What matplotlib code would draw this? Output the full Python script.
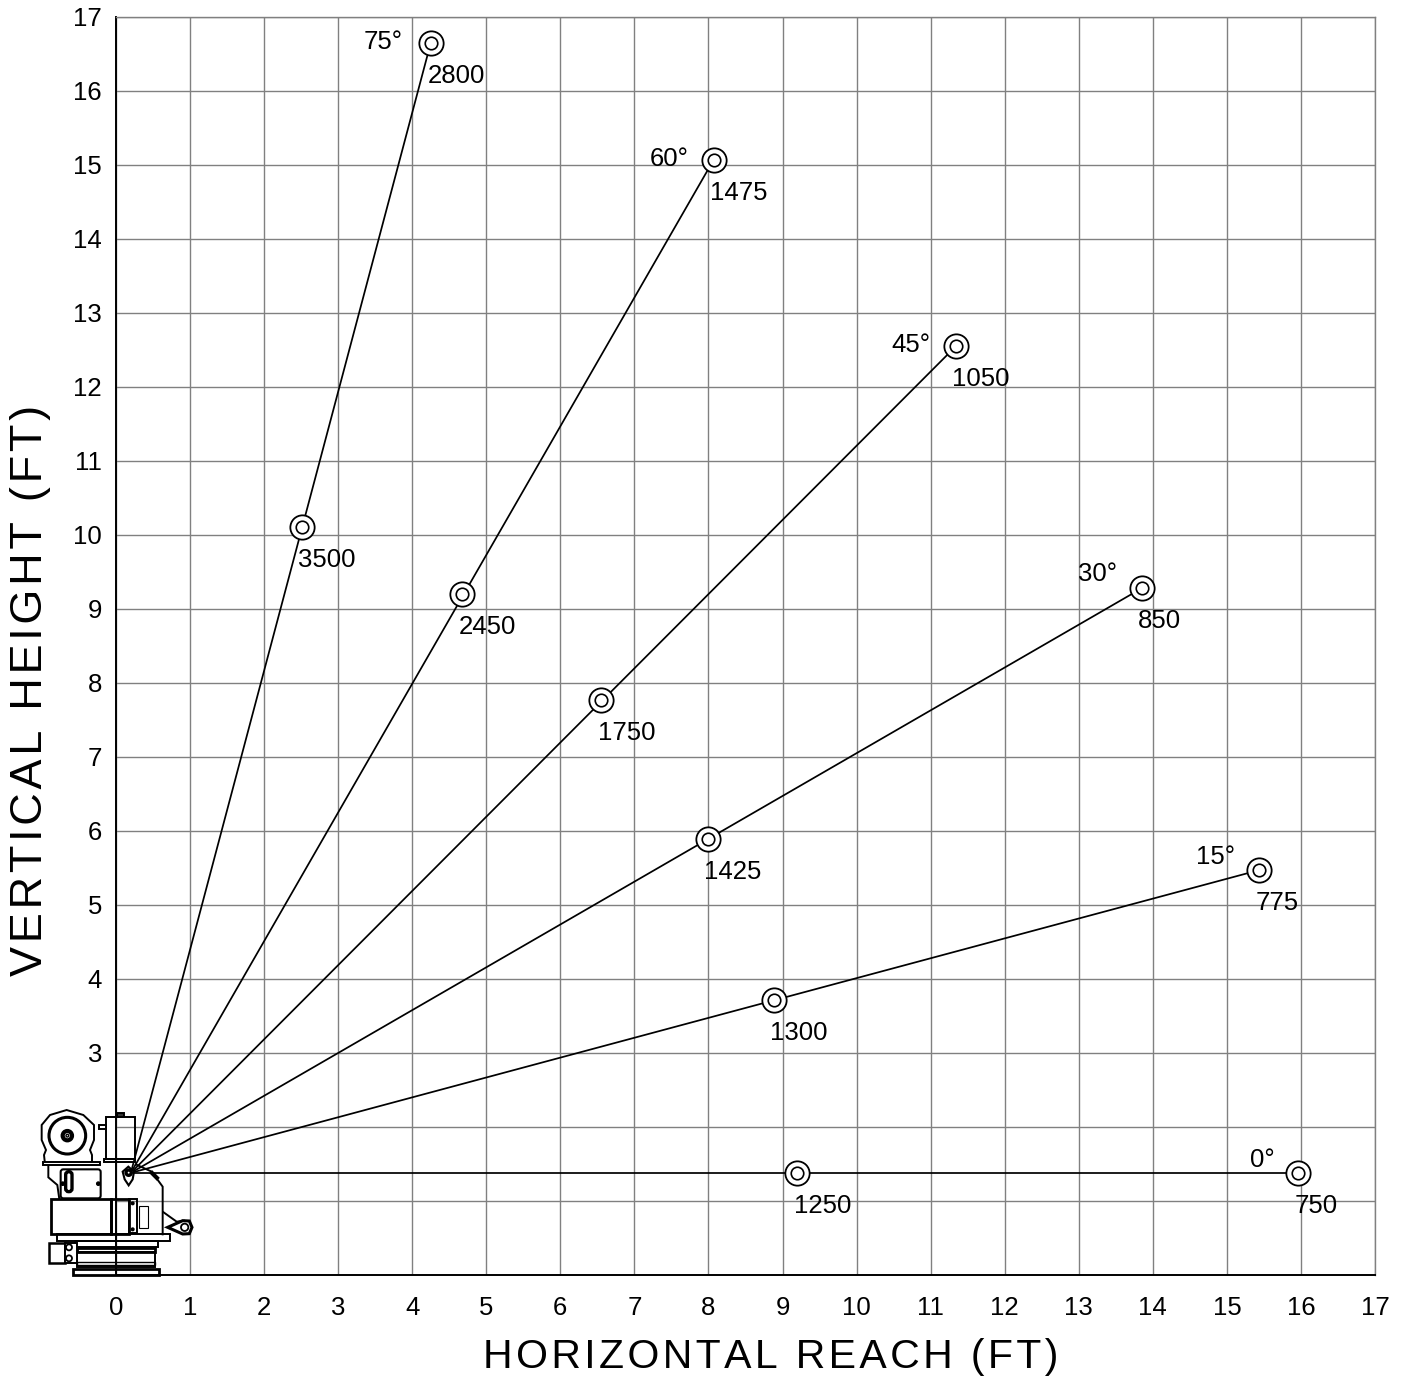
import matplotlib
matplotlib.use('Agg')
import matplotlib.pyplot as plt
from matplotlib.patches import Circle, Polygon, Rectangle, FancyBboxPatch
from matplotlib.transforms import Affine2D

plt.rcParams['font.family'] = ['Liberation Sans', 'DejaVu Sans']

angles = ['0°', '15°', '30°', '45°', '60°', '75°']
origin_x = 0.2
origin_y = 1.38
near_x = [9.20, 8.88, 7.99, 6.55, 4.67, 2.51]
near_y = [1.38, 3.72, 5.89, 7.77, 9.20, 10.11]
near_load = [1250, 1300, 1425, 1750, 2450, 3500]
far_x = [15.96, 15.43, 13.85, 11.34, 8.07, 4.25]
far_y = [1.38, 5.47, 9.28, 12.55, 15.07, 16.65]
far_load = [750, 775, 850, 1050, 1475, 2800]
x_ticks = list(range(0, 18))
y_ticks = list(range(0, 18))
y_labels = ['', '', ''] + [str(v) for v in range(3, 18)]
x_title = 'HORIZONTAL REACH (FT)'
y_title = 'VERTICAL HEIGHT (FT)'

W, H = 1404, 1379
fig = plt.figure(figsize=(W / 100, H / 100), dpi=100)
ax = fig.add_axes([116 / W, 1 - 1275 / H, (1375 - 116) / W, (1275 - 17) / H])
ax.set_xlim(0, 17)
ax.set_ylim(0, 17)
ax.set_xticks(x_ticks)
ax.set_yticks(y_ticks)
ax.set_yticklabels(y_labels)
ax.tick_params(length=0, labelsize=18.5, pad=10)
ax.tick_params(axis='x', pad=15)
ax.grid(True, color='#808080', lw=1.0)
ax.set_axisbelow(True)
for side in ['top', 'right']:
    ax.spines[side].set_color('#808080')
    ax.spines[side].set_linewidth(1.0)
for side in ['left', 'bottom']:
    ax.spines[side].set_color('black')
    ax.spines[side].set_linewidth(1.4)

# the titles are letter spaced in the original, hair spaces get close to that
fig.text(771 / W, 1 - 1357 / H, '\u200a'.join(x_title), fontsize=29.5, ha='center', va='center')
fig.text(31 / W, 1 - 690 / H, '\u200a'.join(y_title), fontsize=32.4, rotation=90, ha='center', va='center')

# angle label offsets differ a bit for the lower lines
angle_dy = [13, 13, 14, 1, 1, 1]
angle_dx = [-23, -24, -25, -25, -25, -28]

for i in range(len(angles)):
    ax.plot([origin_x, far_x[i]], [origin_y, far_y[i]], color='black', lw=1.25, zorder=3)
    ax.plot([near_x[i], far_x[i]], [near_y[i], far_y[i]], ls='none', marker='o', ms=17.5,
            mfc='white', mec='black', mew=1.3, zorder=4)
    ax.plot([near_x[i], far_x[i]], [near_y[i], far_y[i]], ls='none', marker='o', ms=9,
            mfc='white', mec='black', mew=1.2, zorder=5)
    ax.annotate(str(near_load[i]), (near_x[i], near_y[i]), xytext=(-2.5, -33 * 0.72),
                textcoords='offset points', fontsize=18.5, ha='left', va='center', zorder=6)
    ax.annotate(str(far_load[i]), (far_x[i], far_y[i]), xytext=(-2.5, -33 * 0.72),
                textcoords='offset points', fontsize=18.5, ha='left', va='center', zorder=6)
    ax.annotate(angles[i], (far_x[i], far_y[i]), xytext=(angle_dx[i] * 0.72, angle_dy[i] * 0.72),
                textcoords='offset points', fontsize=18.5, ha='right', va='center', zorder=6)

# crane drawing, coordinates are pixels of a 3x crop starting at (20, 1090)
crane = Affine2D().scale(1 / 3).translate(20, 1090).scale(1, -1).translate(0, H)


def outline(pts, closed=True, lw=1.4, fc='white', z=7):
    fig.add_artist(Polygon(pts, closed=closed, fc=fc, ec='black', lw=lw, transform=crane, zorder=z))


def box(x0, y0, x1, y1, lw=1.4, fc='white', z=7):
    fig.add_artist(Rectangle((x0, y0), x1 - x0, y1 - y0, fc=fc, ec='black', lw=lw, transform=crane, zorder=z))


def ring(x, y, r, lw=1.3, fc='white', z=8):
    fig.add_artist(Circle((x, y), r, fc=fc, ec='black', lw=lw, transform=crane, zorder=z))


# main housing is left unfilled so the axis and grid show through it
outline([(85, 225), (85, 262), (112, 285), (118, 328)], closed=False, fc='none')
outline([(345, 222), (395, 245), (428, 290), (428, 436)], closed=False, fc='none')
outline([(392, 245), (415, 268)], closed=False, fc='none', lw=3)
outline([(428, 365), (470, 395), (495, 392)], closed=False, fc='none')

# winch
outline([(75, 222), (72, 195), (78, 180), (65, 150), (65, 105), (90, 75), (140, 60), (190, 75),
         (222, 105), (222, 150), (210, 180), (216, 195), (216, 222)])
ring(142, 137, 55, lw=2.2)
ring(142, 137, 14, lw=3)
ring(142, 137, 4, lw=1.0)
box(70, 216, 240, 225)

# cylinder
box(258, 82, 345, 206, fc='none')
box(290, 70, 312, 82, fc='#333333')
box(252, 206, 345, 216, fc='none')
box(238, 106, 258, 118)

# panel
fig.add_artist(FancyBboxPatch((122, 238), 120, 87, boxstyle='round,pad=0,rounding_size=8', fc='none',
                              ec='black', lw=1.5, transform=crane, zorder=7))
fig.add_artist(FancyBboxPatch((137, 245), 19, 60, boxstyle='round,pad=0,rounding_size=9', fc='white',
                              ec='black', lw=2.4, transform=crane, zorder=7))
ring(128, 281, 5, lw=1, fc='black')
ring(235, 281, 5, lw=1, fc='black')

# blocks
box(93, 328, 272, 432, lw=2)
box(272, 328, 328, 432, lw=2, fc='none')
box(328, 328, 350, 430, fc='none')
box(356, 347, 384, 414, lw=0.8, fc='none')
ring(338, 340, 4, lw=1, fc='black')
ring(338, 418, 4, lw=1, fc='black')

# lug
outline([(443, 412), (488, 392), (508, 393), (516, 412), (508, 431), (488, 432)], lw=2.2)
ring(494, 412, 11, lw=1.3)

# base stack
box(110, 432, 450, 452, fc='none')
box(165, 452, 415, 470, fc='none')
box(172, 474, 405, 485, lw=2, fc='none')
box(172, 485, 405, 530, fc='none')
box(172, 515, 405, 525, lw=1, fc='none')
box(158, 538, 418, 556, lw=2, fc='none')
box(87, 458, 135, 520, lw=1.8)
box(135, 458, 170, 520)
ring(147, 472, 9)
ring(147, 505, 9)

# pivot
outline([(308, 245), (325, 230), (342, 245), (338, 268), (326, 286), (314, 268)], lw=1.5)
ring(326, 248, 8, lw=2.4, fc='none')

fig.savefig('out.png', dpi=100)
